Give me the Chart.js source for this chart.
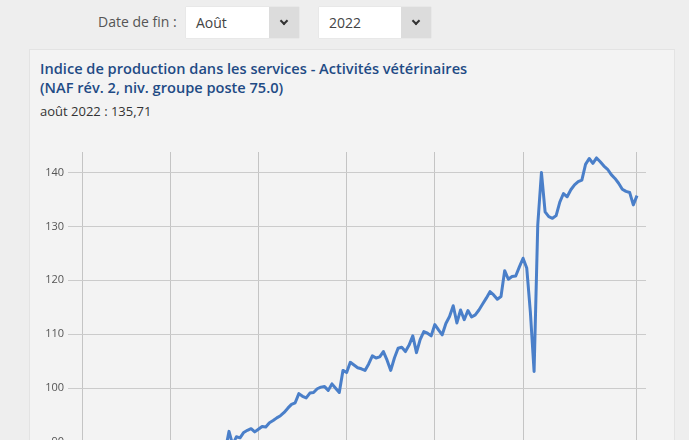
<!DOCTYPE html>
<html lang="fr">
<head>
<meta charset="UTF-8">
<title>Indice de production dans les services - Activités vétérinaires</title>
<script src="https://cdn.jsdelivr.net/npm/chart.js"></script>
<style>
    html, body {
        margin: 0;
        padding: 0;
        width: 689px;
        height: 440px;
        overflow: hidden;
        background: #eeeeee;
        font-family: "Open Sans", Arial, sans-serif;
    }
    .lbl {
        position: absolute;
        left: 98px;
        top: 12px;
        font-size: 14px;
        color: #555;
    }
    .sel {
        position: absolute;
        top: 7px;
        height: 31px;
        background: #fff;
        font-size: 14px;
        color: #444;
        line-height: 31px;
        box-shadow: 0 0 1px rgba(0,0,0,0.15);
    }
    .sel span { padding-left: 10px; }
    .sel .btn {
        position: absolute;
        right: 0;
        top: 0;
        width: 30px;
        height: 31px;
        background: #dcdcdc;
    }
    .sel .btn::after {
        content: "";
        position: absolute;
        left: 12px;
        top: 11px;
        width: 4px;
        height: 4px;
        border-right: 2px solid #333;
        border-bottom: 2px solid #333;
        transform: rotate(45deg);
    }
    .panel {
        position: absolute;
        left: 29px;
        top: 49px;
        width: 644px;
        height: 440px;
        background: #f3f3f3;
        border: 1px solid #e3e3e3;
    }
    .title {
        position: absolute;
        left: 40px;
        top: 59px;
        font-size: 14.6px;
        font-weight: 600;
        line-height: 19px;
        color: #1f4b85;
    }
    .sub {
        position: absolute;
        left: 40px;
        top: 102px;
        font-size: 13px;
        color: #333;
    }
    .chart-box {
        position: absolute;
        left: 30px;
        top: 140px;
        width: 630px;
        height: 440px;
    }
</style>
</head>
<body>
<div class="lbl">Date de fin :</div>
<div class="sel" style="left:186px;width:113px;"><span>Août</span><div class="btn"></div></div>
<div class="sel" style="left:319px;width:112px;"><span>2022</span><div class="btn"></div></div>

<div class="panel"></div>
<div class="title">Indice de production dans les services - Activités vétérinaires<br>(NAF rév. 2, niv. groupe poste 75.0)</div>
<div class="sub">août 2022 : 135,71</div>

<div class="chart-box"><canvas id="chart" width="630" height="440"></canvas></div>

<script>
// monthly values, Jan 2010 -> Aug 2022
const serie2010 = [78.2, 77.6, 78.9, 79.4, 78.8, 79.9, 80.3, 79.7, 80.8, 81.2, 80.6, 81.5];
const serie2011 = [81.9, 81.3, 82.4, 82.8, 82.1, 83.2, 83.6, 82.9, 84.1, 84.5, 83.8, 84.9];
const serie2012 = [85.2, 84.6, 85.7, 86.1, 85.4, 86.5, 86.9, 86.2, 87.3, 87.6, 87.0, 88.1];
const serie2013 = [88.4, 87.8, 88.9, 88.5, 92.0, 89.5, 91.0, 90.8, 91.8, 92.2, 92.5, 91.9];
const serie2014 = [92.4, 92.9, 92.8, 93.6, 94.0, 94.5, 94.9, 95.5, 96.3, 97.0, 97.3, 99.0];
const serie2015 = [98.5, 98.2, 99.1, 99.2, 99.9, 100.2, 100.3, 99.6, 100.8, 100.0, 99.2, 103.3];
const serie2016 = [102.9, 104.8, 104.3, 103.8, 103.6, 103.3, 104.5, 106.0, 105.6, 105.8, 106.8, 105.2];
const serie2017 = [103.3, 105.6, 107.4, 107.6, 106.8, 108.0, 109.7, 106.6, 109.0, 110.5, 110.2, 109.7];
const serie2018 = [111.8, 110.8, 109.9, 112.0, 113.3, 115.3, 112.1, 114.5, 112.7, 114.4, 113.2, 113.6];
const serie2019 = [114.5, 115.6, 116.7, 117.9, 117.3, 116.5, 117.0, 121.8, 120.2, 120.7, 120.8, 122.5];
const serie2020 = [124.1, 122.3, 114.0, 103.1, 130.3, 140.0, 132.7, 131.8, 131.5, 132.0, 134.5, 136.1];
const serie2021 = [135.5, 136.8, 137.7, 138.3, 138.6, 141.5, 142.6, 141.7, 142.7, 142.0, 141.2, 140.6];
const serie2022 = [139.6, 138.9, 138.0, 136.9, 136.5, 136.3, 134.0, 135.71];

// x gridlines (month index from Jan 2010) and their labels
const xTickMonths = [0, 24, 48, 72, 96, 120, 151];
const xTickLabels = ['2010', '2012', '2014', '2016', '2018', '2020', '2022'];
const yTicks = [80, 90, 100, 110, 120, 130, 140];

const values = [].concat(serie2010, serie2011, serie2012, serie2013, serie2014, serie2015,
    serie2016, serie2017, serie2018, serie2019, serie2020, serie2021, serie2022);
const points = values.map((v, i) => ({ x: i, y: v }));

const ctx = document.getElementById('chart').getContext('2d');
new Chart(ctx, {
    type: 'line',
    data: {
        datasets: [{
            data: points,
            borderColor: '#4a7fc9',
            borderWidth: 3,
            pointRadius: 0,
            tension: 0,
            borderJoinStyle: 'round',
            fill: false
        }]
    },
    options: {
        responsive: false,
        animation: false,
        layout: { padding: { top: 12, right: 14, left: 0, bottom: 0 } },
        plugins: { legend: { display: false }, tooltip: { enabled: false } },
        scales: {
            x: {
                type: 'linear',
                min: -3.81,
                max: 153.45,
                afterBuildTicks: s => { s.ticks = xTickMonths.map(v => ({ value: v })); },
                afterFit: s => { s.height = 30; s.paddingLeft = 0; s.paddingRight = 0; },
                ticks: {
                    color: '#555',
                    font: { family: 'Open Sans', size: 11 },
                    callback: v => xTickLabels[xTickMonths.indexOf(v)]
                },
                grid: { color: '#c4c4c4', drawTicks: false },
                border: { display: false }
            },
            y: {
                min: 70,
                max: 143.8,
                afterBuildTicks: s => { s.ticks = yTicks.map(v => ({ value: v })); },
                afterFit: s => { s.width = 38; },
                ticks: {
                    color: '#555',
                    padding: 4,
                    font: { family: 'Open Sans', size: 11 }
                },
                grid: { color: '#cbcbcb', drawTicks: false },
                border: { display: false }
            }
        }
    }
});
</script>
</body>
</html>
